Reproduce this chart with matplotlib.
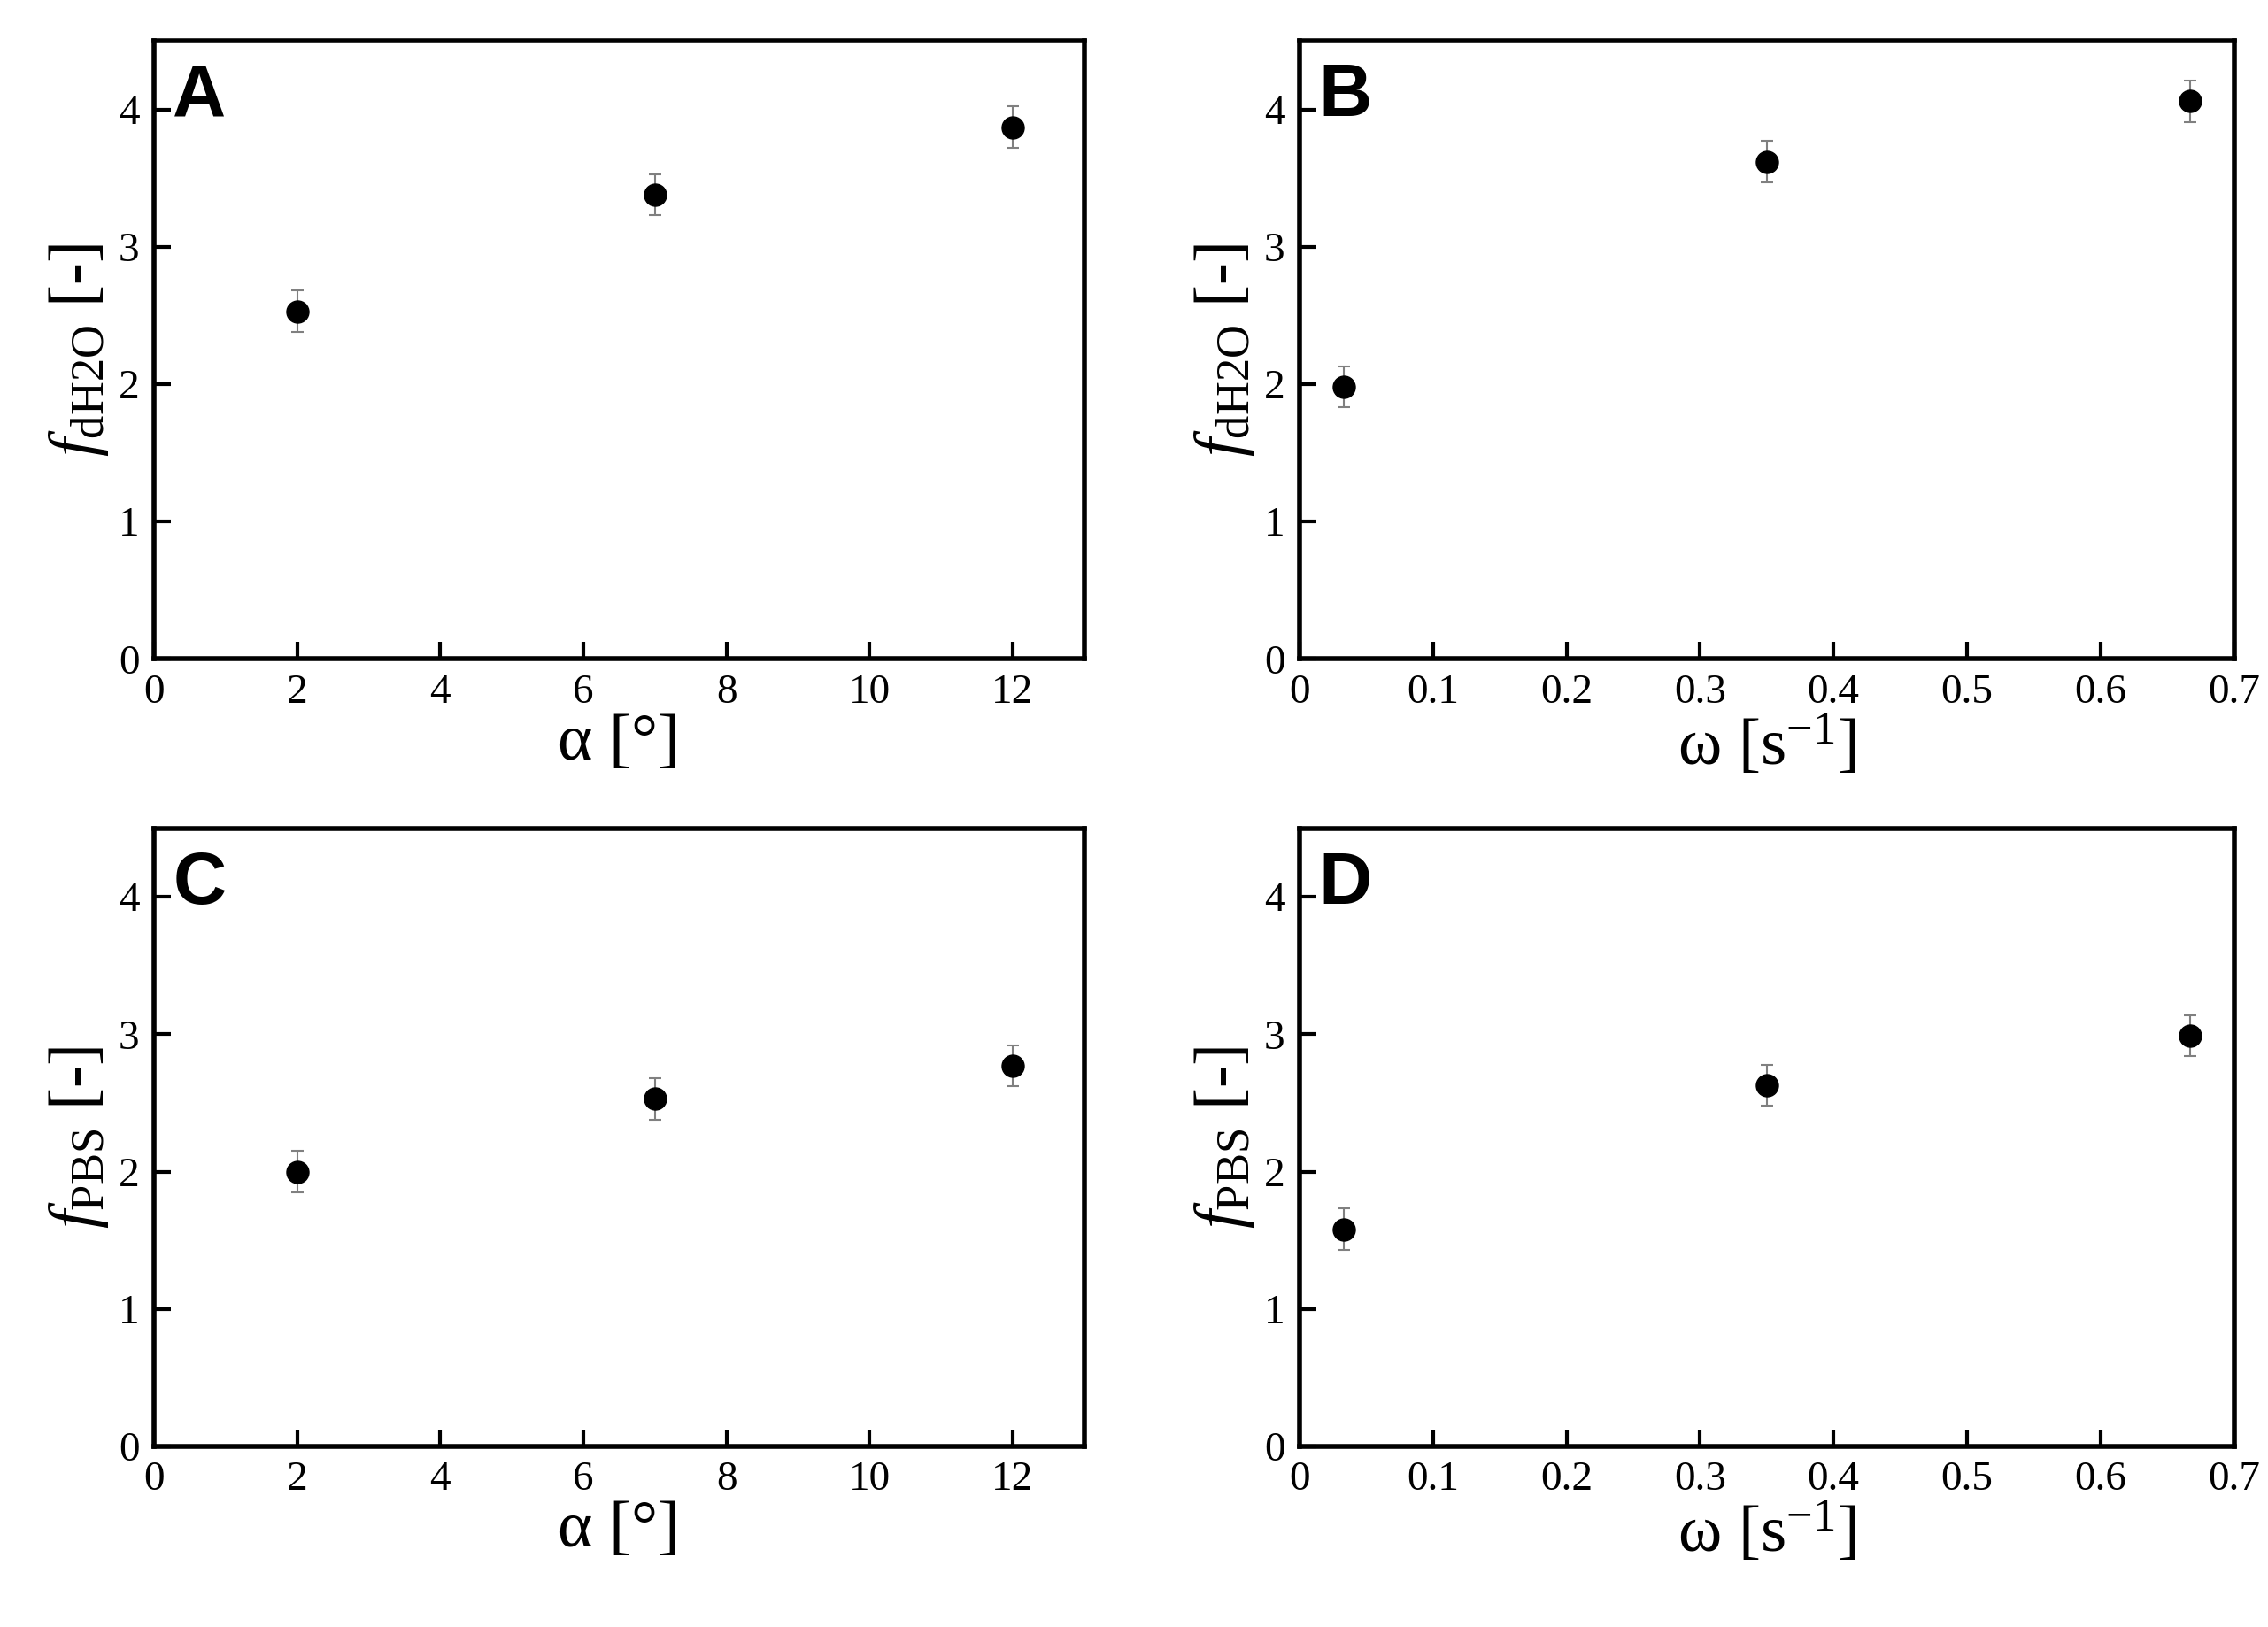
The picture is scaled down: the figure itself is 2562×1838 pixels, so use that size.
import matplotlib.pyplot as plt

# data
alpha = [2, 7, 12]
omega = [0.033, 0.35, 0.667]
f_dh2o_alpha = [2.53, 3.38, 3.87]
f_dh2o_omega = [1.98, 3.62, 4.06]
f_pbs_alpha = [2.00, 2.53, 2.77]
f_pbs_omega = [1.58, 2.63, 2.99]
err_dh2o_alpha = [0.15, 0.15, 0.15]
err_dh2o_omega = [0.15, 0.15, 0.15]
err_pbs_alpha = [0.15, 0.15, 0.15]
err_pbs_omega = [0.15, 0.15, 0.15]

plt.rcParams['font.family'] = ['Liberation Serif', 'DejaVu Serif']
plt.rcParams['mathtext.fontset'] = 'custom'
plt.rcParams['mathtext.rm'] = 'Liberation Serif'
plt.rcParams['mathtext.it'] = 'Liberation Serif:italic'

fig = plt.figure(figsize=(25.62, 18.38), dpi=100)
boxes = [
    [0.068, 0.595, 0.410, 0.380],
    [0.573, 0.595, 0.412, 0.380],
    [0.068, 0.111, 0.410, 0.380],
    [0.573, 0.111, 0.412, 0.380],
]
panels = [
    ('A', alpha, f_dh2o_alpha, err_dh2o_alpha, 'α [°]', r'$f_{\mathrm{dH2O}}$ [-]'),
    ('B', omega, f_dh2o_omega, err_dh2o_omega, r'ω [s$^{\mathrm{-1}}$]', r'$f_{\mathrm{dH2O}}$ [-]'),
    ('C', alpha, f_pbs_alpha, err_pbs_alpha, 'α [°]', r'$f_{\mathrm{PBS}}$ [-]'),
    ('D', omega, f_pbs_omega, err_pbs_omega, r'ω [s$^{\mathrm{-1}}$]', r'$f_{\mathrm{PBS}}$ [-]'),
]

for box, (letter, x, y, e, xl, yl) in zip(boxes, panels):
    ax = fig.add_axes(box)
    ax.errorbar(x, y, yerr=e, fmt='none', ecolor='gray', elinewidth=1.5, capsize=5, capthick=1.5)
    ax.plot(x, y, 'o', color='black', markersize=18)
    ax.set_ylim(0, 4.5)
    ax.set_yticks([0, 1, 2, 3, 4])
    if x is alpha:
        ax.set_xlim(0, 13)
        ax.set_xticks(range(0, 13, 2))
    else:
        ax.set_xlim(0, 0.7)
        ax.set_xticks([0, 0.1, 0.2, 0.3, 0.4, 0.5, 0.6, 0.7])
        ax.set_xticklabels(['0', '0.1', '0.2', '0.3', '0.4', '0.5', '0.6', '0.7'])
    for s in ax.spines.values():
        s.set_linewidth(4)
    ax.tick_params(direction='in', length=14, width=3, labelsize=34, pad=12)
    ax.set_xlabel(xl, fontsize=54, labelpad=2)
    ax.set_ylabel(yl, fontsize=54, labelpad=6)
    ax.text(0.02, 0.965, letter, transform=ax.transAxes, fontsize=60, fontweight='bold',
            family='Liberation Sans', va='top', ha='left')

fig.savefig('out.png', dpi=100)
